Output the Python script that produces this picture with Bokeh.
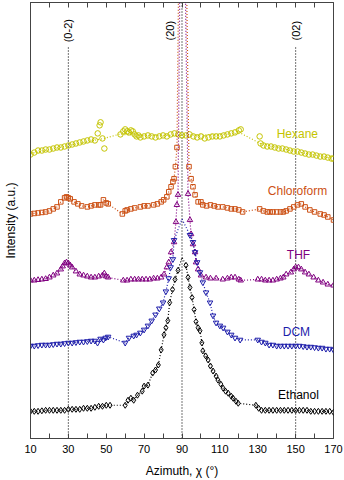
import numpy as np
from bokeh.plotting import figure
from bokeh.models import Range1d, FixedTicker, LinearAxis
from bokeh.embed import file_html
from bokeh.resources import INLINE
from bokeh.core.properties import value

# ---------------- data (azimuth in degrees, stacked intensity in a.u.) ----------------
hex_x = [10, 12, 14, 16, 18, 20, 22, 24, 26, 28, 30, 32, 34, 36, 38, 40, 42, 44, 45.5, 46.5, 47, 48, 49,
         57.5, 59, 60, 61, 62, 63, 64, 65, 66, 67, 68, 70, 72, 74, 76, 78, 80, 82, 84, 86, 88, 90, 92, 94, 96, 98,
         100, 102, 104, 106, 108, 110, 112, 114, 116, 118, 120, 121,
         131, 131.5, 133, 135, 137, 139, 141, 143, 145, 147, 149, 151, 153, 155, 157, 159, 161, 163, 165, 167, 169, 170]
hex_y = [282, 284, 286, 286, 287, 287, 288, 289, 289, 290, 291, 292, 293, 294, 295, 296, 297, 296, 303, 311, 314, 298, 288,
         302, 305, 307, 305, 304, 306, 305, 302, 300, 301, 299, 300, 301, 300, 299, 300, 301, 300, 302, 303, 302, 301, 301, 302, 300, 299,
         300, 298, 299, 300, 300, 300, 301, 302, 303, 304, 306, 307,
         300, 293, 291, 290, 290, 289, 288, 288, 287, 286, 285, 285, 284, 283, 282, 282, 281, 280, 280, 279, 278, 278]
hex_fit_x = [10, 30, 48.7, 56.6, 70, 90, 110, 121.2, 131.3, 150, 170]
hex_fit_y = [283, 291, 298, 302, 301, 301, 302, 303, 293, 285, 278]

chl_x = [10, 12, 14, 16, 18, 20, 22, 24, 26, 28, 29, 30, 31, 33, 35, 37, 40, 42, 44, 46, 47, 48.5, 50, 51,
         58.5, 60, 61, 63, 65, 68, 70, 72, 75, 77, 79, 80.3, 82, 83, 84.2, 85.2, 85.8, 86.5, 87.35,
         93.7, 94.8, 95.8, 96.9, 98.5, 100, 101, 103, 105, 107, 109, 111.5, 114, 116, 118, 120, 122,
         131, 133, 135, 136.5, 138, 140, 142, 143.5, 145, 147, 149, 151, 153, 155, 157.5, 160, 163, 165, 167, 170]
chl_y = [223, 223.5, 224, 224.5, 225, 226, 228, 230, 235, 239, 240, 239, 238, 235, 233, 231, 230, 231, 232, 232, 232, 237, 234, 233,
         223, 226, 227, 228, 229, 230, 231, 231, 232, 233, 235, 237, 240, 245, 250, 255, 258, 270, 289,
         270, 258, 250, 242, 235, 235, 232, 231, 232, 231, 230, 230, 229, 228, 228, 227, 225,
         228, 226, 225, 225, 225, 225, 225, 225, 226, 228, 230, 232, 233, 230, 227, 225, 223, 222, 220, 217]
chl_peak = [90, 800]

thf_x = [10, 12, 14, 16, 18, 20, 22, 24, 26, 27, 28, 29, 30, 31, 32, 34, 36, 38, 40, 42, 44, 46, 48, 49, 50, 51,
         59, 61, 63, 65, 67, 69, 71, 73, 75, 77, 79, 80.5, 82, 83, 84.2, 85.8, 86.8, 87.3, 87.9,
         93.2, 94.2, 94.8, 95.8, 96.9, 97.4, 98.5, 100, 102.7, 105, 108, 111.5, 114, 116, 118, 120, 121,
         130, 132, 134, 136, 138, 140, 142, 143.5, 145, 147.5, 149, 150, 151.5, 153, 155, 157, 159.5, 162, 164.5, 167, 170]
thf_y = [157, 157, 157.5, 158, 158.5, 160, 162, 164, 168, 171, 174, 175, 174, 172, 170, 166, 163, 162, 161, 160, 160, 161, 162, 164, 161, 160,
         157, 157, 158, 158, 158, 158, 158, 158, 159, 159, 160, 163, 170, 175, 185, 195, 215, 232, 242,
         243, 217, 203, 193, 185, 175, 168, 162, 160, 159, 159, 158, 159, 160, 160, 158, 157,
         158, 158, 157, 157, 157, 158, 159, 160, 163, 165, 168, 170, 170, 168, 165, 163, 160, 157, 155, 153, 152]
thf_peak = [90, 700]

dcm_x = [10, 12, 14, 16, 18, 20, 22, 24, 26, 28, 30, 32, 34, 36, 38, 40, 42, 44, 45.4, 47, 48.5, 49.7, 51,
         60, 62, 64.5, 66, 68, 70, 72, 74, 76, 78, 80, 81.5, 83, 84, 85.2, 85.8,
         94.2, 95.8, 96.9, 98, 99.5, 101, 102.7, 104.8, 106.4, 108, 110, 111.7, 114, 116, 118, 120.7,
         130, 132, 134, 136, 138, 140, 142, 144, 146, 148, 150, 152, 154, 156, 158, 160, 162, 164, 166, 168, 170]
dcm_y = [92, 92, 92.5, 93, 93, 93, 93.5, 94, 94, 94.5, 95, 95, 95.5, 96, 96, 96.5, 97, 97, 95, 99, 98, 100, 101,
         95, 100, 102, 103, 105, 108, 112, 117, 123, 129, 135, 146, 159, 170, 178, 197,
         202, 195, 185, 175, 165, 155, 145, 135, 122, 115, 112, 110, 106, 103, 100, 98,
         98, 96, 95, 93, 93, 92, 92, 92, 92, 92, 92, 92, 91.5, 91, 91, 90.5, 90, 90, 89, 89, 88]
dcm_peak = [90, 218]

eth_x = [10, 12, 14, 16, 18, 20, 22, 24, 26, 28, 30, 32, 34, 36, 38, 40, 42, 44, 46, 48, 50, 52,
         60, 61.5, 63, 64.5, 66.5, 69, 70, 72, 74.5, 76, 77.5, 79, 80.5, 81.5, 82.5, 83.5, 85, 86.3, 87.9,
         92.1, 93.2, 94.2, 95.3, 96.4, 97.4, 98.5, 99.5, 100.5, 101, 102.5, 103.8, 105, 106.4, 108, 109, 110.5, 111.7,
         113, 114.4, 116, 117, 118.5, 119.7,
         129, 130.5, 132, 134, 136, 138, 140, 142, 144, 146, 148, 150, 152, 154, 156, 158, 160, 162, 164, 166, 168, 170]
eth_y = [27, 27, 27, 27.5, 28, 28, 28, 28, 28, 28, 29, 29, 29, 29, 30, 30, 30, 31, 32, 32, 33, 33,
         33, 38, 40, 38, 43, 47, 52, 53, 65, 68, 73, 88, 103, 110, 117, 135, 148, 158, 167,
         172, 160, 150, 140, 128, 116, 110, 107, 95, 87, 82, 78, 72, 67, 62, 58, 54, 50,
         47, 45, 42, 40, 37, 35,
         33, 30, 28, 28, 28, 28, 28, 28, 28, 28, 28, 28, 28, 28, 28, 27, 27, 27, 27, 27, 27, 26]
eth_peak = [90, 180]

solvents = ["Hexane", "Chloroform", "THF", "DCM", "Ethanol"]
planes = ["(0-2)", "(20)", "(02)"]
plane_angles = [30, 90, 150]
x_ticks = [10, 30, 50, 70, 90, 110, 130, 150, 170]
x_minor = [20, 40, 60, 80, 100, 120, 140, 160]

# ---------------- styles ----------------
FONT = "Liberation Sans"
C_HEX, C_CHL, C_THF, C_DCM, C_ETH = "#c4c400", "#cc5014", "#800080", "#1c1caa", "#000000"
FRAME = "#444444"

p = figure(width=344, height=480, output_backend="svg", toolbar_location=None,
           x_range=Range1d(10, 170), y_range=Range1d(0, 433),
           min_border_left=30, min_border_right=11, min_border_top=2, min_border_bottom=0)
p.grid.visible = False
p.outline_line_color = FRAME
p.outline_line_width = 1
p.background_fill_color = "white"

# bottom axis
xa = p.xaxis[0]
xa.ticker = FixedTicker(ticks=x_ticks, minor_ticks=x_minor)
xa.major_tick_in = 5
xa.major_tick_out = 0
xa.minor_tick_in = 5
xa.minor_tick_out = 0
xa.major_tick_line_color = FRAME
xa.minor_tick_line_color = FRAME
xa.axis_line_color = FRAME
xa.major_label_text_font = FONT
xa.major_label_text_font_size = "11px"
xa.major_label_text_color = "black"
xa.major_label_standoff = 6
xa.axis_label = "Azimuth, χ (°)"
xa.axis_label_text_font = FONT
xa.axis_label_text_font_size = "12px"
xa.axis_label_text_font_style = "normal"
xa.axis_label_text_color = "black"
xa.axis_label_standoff = 8

# left axis (label only)
ya = p.yaxis[0]
ya.ticker = FixedTicker(ticks=[])
ya.major_tick_in = 0
ya.major_tick_out = 0
ya.minor_tick_in = 0
ya.minor_tick_out = 0
ya.major_label_standoff = 0
ya.axis_line_color = FRAME
ya.axis_label = "Intensity (a.u.)"
ya.axis_label_text_font = FONT
ya.axis_label_text_font_size = "12px"
ya.axis_label_text_font_style = "normal"
ya.axis_label_text_color = "black"
ya.axis_label_standoff = 13

# top axis: inward ticks only (minor ticks, so no labels are drawn)
top = LinearAxis(ticker=FixedTicker(ticks=[], minor_ticks=x_ticks + x_minor),
                 major_tick_in=0, major_tick_out=0, minor_tick_in=5, minor_tick_out=0,
                 minor_tick_line_color=FRAME, axis_line_color=FRAME,
                 major_label_standoff=0)
p.add_layout(top, "above")

# reference lines at the reflection angles
p.segment(x0=plane_angles, y0=[0, 0, 0], x1=plane_angles, y1=[390, 433, 390],
          line_color="black", line_dash="1 2", line_width=1.1)
p.text(x=[30, 83.6, 150], y=[405, 405, 405], text=planes, angle=np.pi / 2,
       text_align="center", text_baseline="middle",
       text_font=value(FONT), text_font_size="11px", text_color="black")


def draw(x, y, peak, color, marker, size):
    xs = np.array(list(x) + [peak[0]])
    ys = np.array(list(y) + [peak[1]])
    o = np.argsort(xs, kind="stable")
    p.line(xs[o], ys[o], line_color=color, line_dash="1 2", line_width=1.2)
    p.scatter(x, y, marker=marker, size=size, line_color=color, fill_color=None, line_width=1)


p.line(hex_fit_x, hex_fit_y, line_color=C_HEX, line_dash="1 2", line_width=1.2)
p.scatter(hex_x, hex_y, marker="circle", size=5.5, line_color=C_HEX, fill_color=None, line_width=1)
draw(chl_x, chl_y, chl_peak, C_CHL, "square", 4.5)
draw(thf_x, thf_y, thf_peak, C_THF, "triangle", 5.5)
draw(dcm_x, dcm_y, dcm_peak, C_DCM, "inverted_triangle", 5.5)
draw(eth_x, eth_y, eth_peak, C_ETH, "diamond", 6)

# solvent labels
p.text(x=[150.9, 151, 151.5, 150.4, 151.5], y=[302, 246, 182, 106, 43], text=solvents,
       text_align="center", text_baseline="middle",
       text_font=value(FONT), text_font_size="12px",
       text_color=[C_HEX, C_CHL, C_THF, C_DCM, C_ETH])

open("out.html", "w").write(file_html(p, INLINE))
